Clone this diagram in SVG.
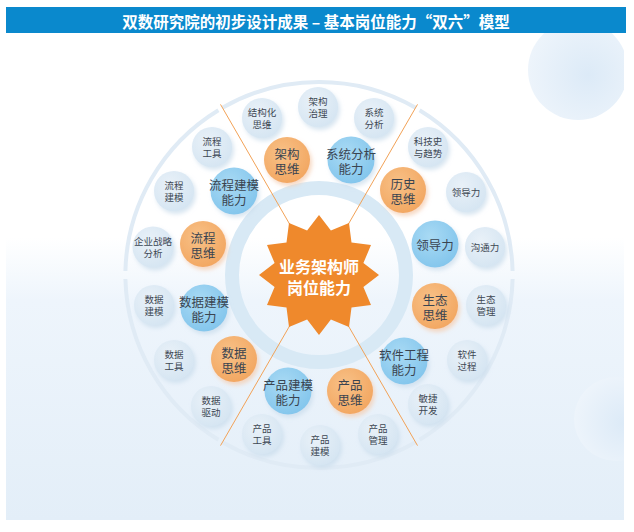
<svg xmlns="http://www.w3.org/2000/svg" width="634" height="532" viewBox="0 0 634 532">
<style>
.ts{font-family:"Noto Sans CJK SC","Noto Sans",sans-serif;font-size:9.5px;fill:#3d4753;text-anchor:middle;dominant-baseline:central}
.tl{font-family:"Noto Sans CJK SC","Noto Sans",sans-serif;font-size:12.5px;fill:#3a4450;text-anchor:middle;dominant-baseline:central}
.lb{fill:url(#gLight);filter:url(#shB)}
.ob{fill:url(#gOrange);filter:url(#shO)}
.bb{fill:url(#gBlue);filter:url(#shB)}
.sec{stroke:#f2a257;stroke-width:1;fill:none}
.arc{stroke:#e0ebf5;stroke-width:4;fill:none}
</style>
<defs>
<linearGradient id="gBg" x1="0" y1="0" x2="0" y2="1">
<stop offset="0" stop-color="#ffffff"/>
<stop offset="0.42" stop-color="#ffffff"/>
<stop offset="0.55" stop-color="#eef5fc"/>
<stop offset="1" stop-color="#e3eef8"/>
</linearGradient>
<radialGradient id="gDeco" cx="0.6" cy="0.55" r="0.6">
<stop offset="0" stop-color="#dceaf7"/>
<stop offset="1" stop-color="#edf4fb"/>
</radialGradient>
<radialGradient id="gLight" cx="0.4" cy="0.35" r="0.7">
<stop offset="0" stop-color="#e9f1f8"/>
<stop offset="1" stop-color="#d5e5f2"/>
</radialGradient>
<radialGradient id="gOrange" cx="0.4" cy="0.35" r="0.7">
<stop offset="0" stop-color="#f8c187"/>
<stop offset="1" stop-color="#f2a660"/>
</radialGradient>
<radialGradient id="gBlue" cx="0.4" cy="0.35" r="0.7">
<stop offset="0" stop-color="#a9daf4"/>
<stop offset="1" stop-color="#82c5ec"/>
</radialGradient>
<linearGradient id="gH" x1="0" y1="0" x2="1" y2="0">
<stop offset="0" stop-color="#f2a257" stop-opacity="0"/>
<stop offset="0.15" stop-color="#f2a257" stop-opacity="0.8"/>
<stop offset="0.85" stop-color="#f2a257" stop-opacity="0.8"/>
<stop offset="1" stop-color="#f2a257" stop-opacity="0"/>
</linearGradient>
<filter id="shB" x="-30%" y="-30%" width="170%" height="170%">
<feDropShadow dx="2" dy="3" stdDeviation="2" flood-color="#c8dbeb" flood-opacity="0.7"/>
</filter>
<filter id="shO" x="-30%" y="-30%" width="170%" height="170%">
<feDropShadow dx="2" dy="3" stdDeviation="2" flood-color="#f5cfb3" flood-opacity="0.8"/>
</filter>
<clipPath id="cBg"><rect x="6" y="33" width="618" height="487"/></clipPath>
</defs>

<rect x="0" y="0" width="634" height="532" fill="#ffffff"/>
<rect x="6" y="33" width="618" height="487" fill="url(#gBg)"/>
<g clip-path="url(#cBg)">
<circle cx="578" cy="70" r="50" fill="url(#gDeco)"/>
<circle cx="616" cy="419" r="42" fill="url(#gDeco)"/>
</g>

<g id="title">
<rect x="6" y="7" width="620" height="26" fill="#0a89cd"/>
<text x="316" y="20.5" font-family="'Noto Sans CJK SC','Noto Sans',sans-serif" font-size="15.5" font-weight="bold" fill="#ffffff" text-anchor="middle" dominant-baseline="central">双数研究院的初步设计成果 – 基本岗位能力“双六”模型</text>
</g>

<g id="rings">
<circle cx="319" cy="275" r="87" fill="none" stroke="#d8e9f5" stroke-width="14"/>
<path class="arc" d="M 222.4 107.7 A 194 194 0 0 1 415.6 107.7"/>
<path class="arc" d="M 419.6 110.2 A 194 194 0 0 1 512.6 271"/>
<path class="arc" d="M 512.6 279 A 194 194 0 0 1 419.6 439.8"/>
<path class="arc" d="M 415.6 442.3 A 194 194 0 0 1 222.4 442.3"/>
<path class="arc" d="M 218.4 439.8 A 194 194 0 0 1 125.4 279"/>
<path class="arc" d="M 125.4 271 A 194 194 0 0 1 218.4 110.2"/>
</g>

<g id="connectors">
<line x1="40" y1="275" x2="600" y2="275" stroke="url(#gH)" stroke-width="1"/>
<line class="sec" x1="319" y1="275" x2="417.5" y2="104.4"/>
<line class="sec" x1="319" y1="275" x2="220.5" y2="104.4"/>
<line class="sec" x1="319" y1="275" x2="220.5" y2="445.6"/>
<line class="sec" x1="319" y1="275" x2="417.5" y2="445.6"/>
</g>

<g id="center">
<polygon fill="#ef892c" points="379,275 363.4,263.1 371,245 351.5,242.5 349,223 330.9,230.6 319,215 307.1,230.6 289,223 286.5,242.5 267,245 274.6,263.1 259,275 274.6,286.9 267,305 286.5,307.5 289,327 307.1,319.4 319,335 330.9,319.4 349,327 351.5,307.5 371,305 363.4,286.9"/>
<text font-family="'Noto Sans CJK SC','Noto Sans',sans-serif" font-size="16" font-weight="bold" fill="#ffffff" text-anchor="middle" dominant-baseline="central"><tspan x="319" y="266">业务架构师</tspan><tspan x="319" y="287">岗位能力</tspan></text>
</g>

<!-- top sector -->
<g id="n-jiegouhua"><circle class="lb" cx="262" cy="118" r="20"/><text class="ts"><tspan x="262" y="112">结构化</tspan><tspan x="262" y="124">思维</tspan></text></g>
<g id="n-jiagouzhili"><circle class="lb" cx="318" cy="107" r="20"/><text class="ts"><tspan x="318" y="101">架构</tspan><tspan x="318" y="113">治理</tspan></text></g>
<g id="n-xitongfenxi"><circle class="lb" cx="374" cy="118" r="20"/><text class="ts"><tspan x="374" y="112">系统</tspan><tspan x="374" y="124">分析</tspan></text></g>
<g id="n-jiagousiwei"><circle class="ob" cx="287" cy="160" r="23"/><text class="tl"><tspan x="287" y="152.5">架构</tspan><tspan x="287" y="167.5">思维</tspan></text></g>
<g id="n-xitongfenxinengli"><circle class="bb" cx="351" cy="160" r="23.5"/><text class="tl"><tspan x="351" y="152.5">系统分析</tspan><tspan x="351" y="167.5">能力</tspan></text></g>

<!-- upper-left sector -->
<g id="n-liuchenggongju"><circle class="lb" cx="212" cy="147" r="20"/><text class="ts"><tspan x="212" y="141">流程</tspan><tspan x="212" y="153">工具</tspan></text></g>
<g id="n-liuchengjianmo"><circle class="lb" cx="174" cy="191" r="20"/><text class="ts"><tspan x="174" y="185">流程</tspan><tspan x="174" y="197">建模</tspan></text></g>
<g id="n-qiyezhanlue"><circle class="lb" cx="153" cy="247" r="20.5"/><text class="ts"><tspan x="153" y="241">企业战略</tspan><tspan x="153" y="253">分析</tspan></text></g>
<g id="n-liuchengjianmonengli"><circle class="bb" cx="234" cy="191" r="23.5"/><text class="tl"><tspan x="234" y="183.5">流程建模</tspan><tspan x="234" y="198.5">能力</tspan></text></g>
<g id="n-liuchengsiwei"><circle class="ob" cx="203" cy="244" r="23"/><text class="tl"><tspan x="203" y="236.5">流程</tspan><tspan x="203" y="251.5">思维</tspan></text></g>

<!-- upper-right sector -->
<g id="n-kejishi"><circle class="lb" cx="428" cy="147" r="20"/><text class="ts"><tspan x="428" y="141">科技史</tspan><tspan x="428" y="153">与趋势</tspan></text></g>
<g id="n-lingdaoli-s"><circle class="lb" cx="466" cy="192" r="20"/><text class="ts" x="466" y="192">领导力</text></g>
<g id="n-goutongli"><circle class="lb" cx="485" cy="247" r="20"/><text class="ts" x="485" y="247">沟通力</text></g>
<g id="n-lishisiwei"><circle class="ob" cx="403" cy="190" r="23"/><text class="tl"><tspan x="403" y="182.5">历史</tspan><tspan x="403" y="197.5">思维</tspan></text></g>
<g id="n-lingdaoli"><circle class="bb" cx="435" cy="244" r="23.5"/><text class="tl" x="435" y="244">领导力</text></g>

<!-- lower-left sector -->
<g id="n-shujujianmo"><circle class="lb" cx="154" cy="305" r="20"/><text class="ts"><tspan x="154" y="299">数据</tspan><tspan x="154" y="311">建模</tspan></text></g>
<g id="n-shujugongju"><circle class="lb" cx="174" cy="360" r="20"/><text class="ts"><tspan x="174" y="354">数据</tspan><tspan x="174" y="366">工具</tspan></text></g>
<g id="n-shujuqudong"><circle class="lb" cx="211" cy="406" r="20"/><text class="ts"><tspan x="211" y="400">数据</tspan><tspan x="211" y="412">驱动</tspan></text></g>
<g id="n-shujujianmonengli"><circle class="bb" cx="204" cy="308" r="23.5"/><text class="tl"><tspan x="204" y="300.5">数据建模</tspan><tspan x="204" y="315.5">能力</tspan></text></g>
<g id="n-shujusiwei"><circle class="ob" cx="234" cy="359" r="23"/><text class="tl"><tspan x="234" y="351.5">数据</tspan><tspan x="234" y="366.5">思维</tspan></text></g>

<!-- lower-right sector -->
<g id="n-shengtaiguanli"><circle class="lb" cx="486" cy="305" r="20"/><text class="ts"><tspan x="486" y="299">生态</tspan><tspan x="486" y="311">管理</tspan></text></g>
<g id="n-ruanjianguocheng"><circle class="lb" cx="467" cy="360" r="20"/><text class="ts"><tspan x="467" y="354">软件</tspan><tspan x="467" y="366">过程</tspan></text></g>
<g id="n-minjie"><circle class="lb" cx="428" cy="404" r="20"/><text class="ts"><tspan x="428" y="398">敏捷</tspan><tspan x="428" y="410">开发</tspan></text></g>
<g id="n-shengtaisiwei"><circle class="ob" cx="435" cy="306" r="23"/><text class="tl"><tspan x="435" y="298.5">生态</tspan><tspan x="435" y="313.5">思维</tspan></text></g>
<g id="n-ruanjiangongcheng"><circle class="bb" cx="404" cy="361" r="23.5"/><text class="tl"><tspan x="404" y="353.5">软件工程</tspan><tspan x="404" y="368.5">能力</tspan></text></g>

<!-- bottom sector -->
<g id="n-chanpingongju"><circle class="lb" cx="262" cy="434" r="20"/><text class="ts"><tspan x="262" y="428">产品</tspan><tspan x="262" y="440">工具</tspan></text></g>
<g id="n-chanpinjianmo"><circle class="lb" cx="320" cy="445" r="20"/><text class="ts"><tspan x="320" y="439">产品</tspan><tspan x="320" y="451">建模</tspan></text></g>
<g id="n-chanpinguanli"><circle class="lb" cx="378" cy="434" r="20"/><text class="ts"><tspan x="378" y="428">产品</tspan><tspan x="378" y="440">管理</tspan></text></g>
<g id="n-chanpinjianmonengli"><circle class="bb" cx="288" cy="391" r="23.5"/><text class="tl"><tspan x="288" y="383.5">产品建模</tspan><tspan x="288" y="398.5">能力</tspan></text></g>
<g id="n-chanpinsiwei"><circle class="ob" cx="350" cy="391" r="23"/><text class="tl"><tspan x="350" y="383.5">产品</tspan><tspan x="350" y="398.5">思维</tspan></text></g>
</svg>
